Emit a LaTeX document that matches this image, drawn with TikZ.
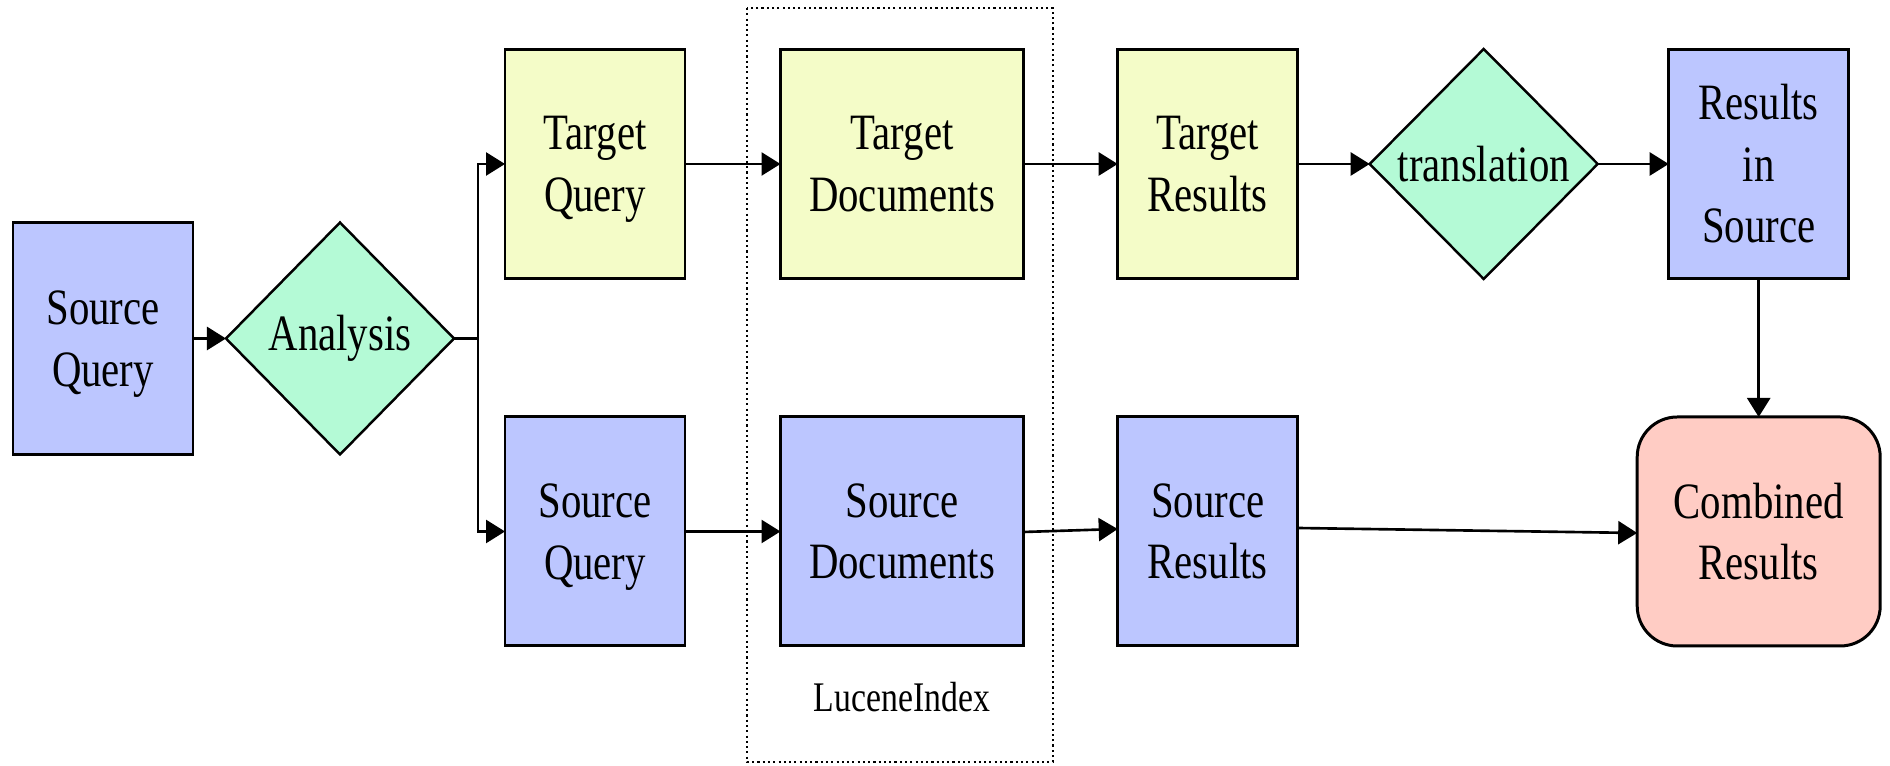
\documentclass[tikz,border=0pt]{standalone}
\usepackage{fontspec}
\setmainfont{Liberation Serif}[FakeStretch=0.8]
\usetikzlibrary{arrows.meta,positioning,shapes.geometric}
\definecolor{qblue}{RGB}{188,198,255}
\definecolor{qyellow}{RGB}{244,252,200}
\definecolor{qgreen}{RGB}{180,250,214}
\definecolor{qpink}{RGB}{255,204,196}

\begin{document}
\begin{tikzpicture}[
    node distance=13.85mm,
    every node/.style={font=\fontsize{14.5}{17.5}\selectfont},
    box/.style={
      rectangle,
      draw=black,
      line width=0.85pt,
      align=center,
      inner sep=0pt,
      outer sep=0pt,
      minimum width=18mm,
      minimum height=22.9mm
    },
    srcbox/.style={box, fill=qblue},
    tgtbox/.style={box, fill=qyellow},
    docbox/.style={minimum width=24.3mm},
    decision/.style={
      diamond,
      draw=black,
      line width=0.7pt,
      fill=qgreen,
      inner sep=0pt,
      outer sep=0pt,
      minimum width=22.8mm,
      minimum height=23mm
    },
    arr/.style={-{Triangle[length=1.9mm,width=2.3mm]}, line width=0.75pt}
  ]
    \useasboundingbox (0,0) rectangle (189mm,-76.6mm);

    \node[srcbox, minimum height=23.2mm] (srcq) at (10.3mm,-33.85mm) {Source\\\smash{Query}};
    \node[decision, minimum height=23.2mm, right=3.3mm of srcq] (ana) {\makebox[0pt]{Analysis}};

    \node[tgtbox] (tq) at (59.5mm,-16.4mm) {Target\\\smash{Query}};
    \node[tgtbox, docbox, right=9.55mm of tq] (td) {Target\\Documents};
    \node[tgtbox, right=9.42mm of td] (tr) {Target\\Results};
    \node[decision, right=7.2mm of tr] (trans) {\makebox[0pt]{translation}};
    \node[srcbox, right=7.1mm of trans] (ris) {Results\\in\\Source};

    \node[srcbox, below=of tq] (sq) {Source\\\smash{Query}};
    \node[srcbox, docbox, below=of td] (sd) {Source\\Documents};
    \node[srcbox, below=of tr] (sr) {Source\\Results};
    \node[box, docbox, fill=qpink, rounded corners=4mm, below=of ris] (comb) {Combined\\Results};

    \node[font=\fontsize{12}{14}\selectfont] (lucene) at ([yshift=-5.1mm]sd.south) {LuceneIndex};
    \draw[line width=0.6pt, dash pattern=on 0.6pt off 0.9pt]
      ([xshift=-3.35mm,yshift=4.15mm]td.north west) rectangle ([xshift=2.95mm,yshift=-11.6mm]sd.south east);

    \coordinate[right=2.4mm of ana.east] (split);
    \draw[arr] (srcq) -- (ana);
    \draw[arr] (ana.east) -- (split) |- (tq.west);
    \draw[arr] (split) |- (sq.west);
    \draw[arr] (tq) -- (td);
    \draw[arr] (td) -- (tr);
    \draw[arr] (tr) -- (trans);
    \draw[arr] (trans) -- (ris);
    \draw[arr] (sq) -- (sd);
    \draw[arr] ([yshift=-0.05mm]sd.east) -- ([yshift=0.25mm]sr.west);
    \draw[arr] ([yshift=0.35mm]sr.east) -- ([yshift=-0.15mm]comb.west);
    \draw[arr] (ris) -- (comb);
  \end{tikzpicture}
\end{document}
